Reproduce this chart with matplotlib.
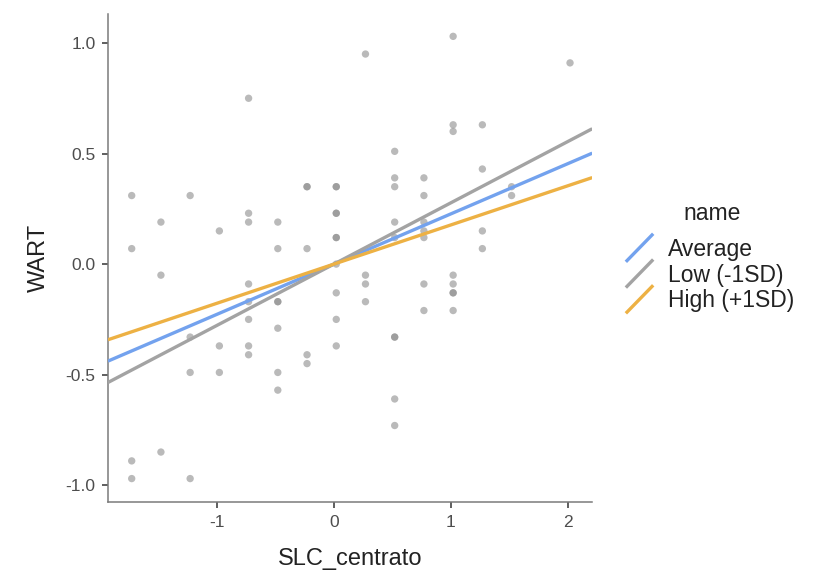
import matplotlib.pyplot as plt
from matplotlib.lines import Line2D
from matplotlib.legend_handler import HandlerLine2D
import numpy as np

plt.rcParams['font.family'] = ['Liberation Sans', 'DejaVu Sans']
plt.rcParams['axes.unicode_minus'] = False

# punti osservati (SLC_centrato, WART)
slc = [-1.73, -1.23, -0.73, -0.23, -0.23, 0.02, -0.73, 0.02, -1.48, -0.73, -0.48,
       -0.98, -1.73, -0.48, -0.23, 0.02, 0.02, 0.02, 0.02, 0.02,
       0.27, 1.02, 2.02, 1.02, 1.27, 1.02, 0.52, 1.27, 0.52, 0.77, 0.52, 1.52,
       1.52, 0.77, 0.52, 0.77, 0.77, 0.77, 0.52, 1.27, 1.27,
       -1.48, -0.73, -0.73, -0.48, -0.48, -0.73, -0.48, -1.23, -0.98, -0.73,
       -0.73, -0.23, -0.23, 0.02, 0.02, 0.02, -1.23, -0.98, -0.48, -0.48,
       -1.73, -1.48, -1.73, -1.23,
       0.27, 0.27, 0.77, 1.02, 1.02, 1.02, 1.02, 0.27, 0.77, 1.02,
       0.52, 0.52, 0.52, 0.52]
wart = [0.31, 0.31, 0.75, 0.35, 0.35, 0.35, 0.23, 0.23, 0.19, 0.19, 0.19,
        0.15, 0.07, 0.07, 0.07, 0.12, 0.0, 0.35, 0.23, 0.12,
        0.95, 1.03, 0.91, 0.63, 0.63, 0.60, 0.51, 0.43, 0.39, 0.39, 0.35, 0.35,
        0.31, 0.31, 0.19, 0.19, 0.15, 0.12, 0.12, 0.15, 0.07,
        -0.05, -0.09, -0.17, -0.17, -0.17, -0.25, -0.29, -0.33, -0.37, -0.37,
        -0.41, -0.41, -0.45, -0.13, -0.25, -0.37, -0.49, -0.49, -0.49, -0.57,
        -0.89, -0.85, -0.97, -0.97,
        -0.05, -0.09, -0.09, -0.05, -0.09, -0.13, -0.13, -0.17, -0.21, -0.21,
        -0.33, -0.33, -0.61, -0.73]

# pendenze delle rette (passano per l'origine)
nomi = ["Average", "Low (-1SD)", "High (+1SD)"]
pendenze = [0.227, 0.277, 0.177]
colori = ["#73A2EE", "#A3A3A3", "#EDB144"]


class DiagonaleHandler(HandlerLine2D):
    # chiave della legenda con una linea obliqua, come in ggplot
    def create_artists(self, legend, orig_handle, xdescent, ydescent,
                       width, height, fontsize, trans):
        w = width * 0.84
        x0 = (width - w) / 2 - xdescent
        linea = Line2D([x0, x0 + w], [-height * 0.3 - ydescent, height * 1.3 - ydescent],
                       color=orig_handle.get_color(), lw=orig_handle.get_linewidth())
        linea.set_transform(trans)
        return [linea]


fig = plt.figure(figsize=(8.18, 5.84), dpi=100)
ax = fig.add_axes([0.132, 0.140, 0.592, 0.836])

ax.scatter(slc, wart, s=28, color="#8c8c8c", alpha=0.6, edgecolors="none", zorder=2)

xx = np.array([-1.933, 2.21])
handles = []
for nome, b, c in zip(nomi, pendenze, colori):
    h, = ax.plot(xx, b * xx, color=c, lw=2.4, label=nome, zorder=3,
                 solid_capstyle="butt")
    handles.append(h)

ax.set_xlim(-1.933, 2.21)
ax.set_ylim(-1.077, 1.131)
ax.set_xticks([-1, 0, 1, 2])
ax.set_yticks([-1.0, -0.5, 0.0, 0.5, 1.0])
ax.set_yticklabels(["-1.0", "-0.5", "0.0", "0.5", "1.0"])

for s in ["top", "right"]:
    ax.spines[s].set_visible(False)
for s in ["left", "bottom"]:
    ax.spines[s].set_color("#7a7a7a")
    ax.spines[s].set_linewidth(1.1)
ax.tick_params(colors="#333333", labelcolor="#4d4d4d", labelsize=12.5,
               length=4, width=1.1, pad=5)

ax.set_xlabel("SLC_centrato", fontsize=17, color="#222222", labelpad=13)
ax.set_ylabel("WART", fontsize=17, color="#222222", labelpad=11)

leg = fig.legend(handles=handles, labels=nomi,
                 loc="center left", bbox_to_anchor=(0.7636, 0.529),
                 frameon=False, fontsize=16.5, borderpad=0, borderaxespad=0,
                 handler_map={Line2D: DiagonaleHandler()},
                 handlelength=1.3, handletextpad=0.59, labelspacing=0.12)
for t in leg.get_texts():
    t.set_color("#222222")
fig.text(683 / 818, 1 - 213 / 584, "name", fontsize=16.5, color="#222222",
         ha="left", va="center")

fig.savefig("out.png", dpi=100)
